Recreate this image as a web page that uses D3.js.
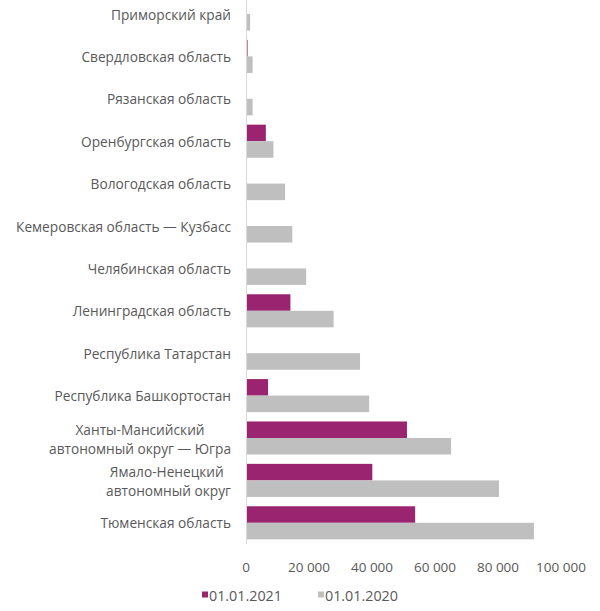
<!DOCTYPE html>
<html>
<head>
<meta charset="utf-8">
<script src="https://cdn.jsdelivr.net/npm/d3@7"></script>
<style>
  body { margin: 0; background: #fff; }
  svg text { font-family: "Open Sans", "Noto Sans", sans-serif; fill: #595959; }
</style>
</head>
<body>
<svg id="chart" width="600" height="611"></svg>
<script>
// regions, top to bottom as shown in the chart
const regions = [
    'Приморский край',
    'Свердловская область',
    'Рязанская область',
    'Оренбургская область',
    'Вологодская область',
    'Кемеровская область — Кузбасс',
    'Челябинская область',
    'Ленинградская область',
    'Республика Татарстан',
    'Республика Башкортостан',
    'Ханты-Мансийский\nавтономный округ — Югра',
    'Ямало-Ненецкий \nавтономный округ',
    'Тюменская область'
];
const values2021 = [0, 500, 0, 6300, 0, 0, 0, 14100, 0, 7000, 51100, 40100, 53700];
const values2020 = [1300, 2100, 2100, 8700, 12400, 14700, 19100, 27800, 36200, 39100, 65100, 80300, 91400];
const seriesNames = ['01.01.2021', '01.01.2020'];
const xTicks = [0, 20000, 40000, 60000, 80000, 100000];

const colors = { '01.01.2021': '#9b2470', '01.01.2020': '#bfbfbf' };

const svg = d3.select('#chart');

// layout
const plot = { left: 246, right: 561, top: -7.2, bottom: 544 };
const labelRight = 231;

const x = d3.scaleLinear()
    .domain([0, 100000])
    .range([plot.left, plot.right]);

const y = d3.scaleBand()
    .domain(regions)
    .range([plot.top, plot.bottom])
    .paddingInner(0.22)
    .paddingOuter(0.11);

const ySub = d3.scaleBand()
    .domain(seriesNames)
    .range([0, y.bandwidth()]);

const rows = regions.map((r, i) => ({
    region: r,
    values: [
        { name: seriesNames[0], value: values2021[i] },
        { name: seriesNames[1], value: values2020[i] }
    ]
}));

// bars
const groups = svg.append('g')
    .selectAll('g')
    .data(rows)
    .join('g')
    .attr('transform', d => `translate(0, ${y(d.region)})`);

groups.selectAll('rect')
    .data(d => d.values.filter(v => v.value > 0))
    .join('rect')
    .attr('x', x(0))
    .attr('y', d => ySub(d.name))
    .attr('width', d => x(d.value) - x(0))
    .attr('height', ySub.bandwidth())
    .attr('fill', d => colors[d.name]);

// vertical category axis line
svg.append('line')
    .attr('x1', x(0) + 0.5)
    .attr('x2', x(0) + 0.5)
    .attr('y1', 0)
    .attr('y2', plot.bottom)
    .attr('stroke', '#d9d9d9')
    .attr('stroke-width', 1);

// category labels (multi-line ones are centred as a block, right aligned)
const lineHeight = 19;
const labels = svg.append('g')
    .selectAll('text')
    .data(regions)
    .join('text')
    .attr('font-size', '13.7px')
    .attr('dominant-baseline', 'central');

labels.each(function(d) {
    const t = d3.select(this);
    const lines = d.split('\n');
    const cy = y(d) + y.bandwidth() / 2;
    if (lines.length === 1) {
        t.attr('x', labelRight).attr('y', cy)
            .attr('text-anchor', 'end')
            .text(d);
        return;
    }
    t.attr('text-anchor', 'middle');
    const spans = lines.map((ln, k) => t.append('tspan')
        .attr('y', cy + (k - (lines.length - 1) / 2) * lineHeight)
        .attr('xml:space', 'preserve')
        .text(ln));
    const maxW = d3.max(spans, s => s.node().getComputedTextLength());
    spans.forEach(s => s.attr('x', labelRight - maxW / 2));
});

// x axis tick labels
const fmt = v => d3.format(',')(v).replace(/,/g, ' ');
svg.append('g')
    .selectAll('text')
    .data(xTicks)
    .join('text')
    .attr('x', d => x(d))
    .attr('y', 567)
    .attr('text-anchor', 'middle')
    .attr('dominant-baseline', 'central')
    .attr('font-size', '13.5px')
    .text(fmt);

// legend
const legendItems = [
    { name: seriesNames[0], x: 202 },
    { name: seriesNames[1], x: 318 }
];
const legend = svg.append('g')
    .selectAll('g')
    .data(legendItems)
    .join('g')
    .attr('transform', d => `translate(${d.x}, 595)`);

legend.append('rect')
    .attr('x', 0)
    .attr('y', -3.5)
    .attr('width', 6)
    .attr('height', 6)
    .attr('fill', d => colors[d.name]);

legend.append('text')
    .attr('x', 7)
    .attr('y', 0)
    .attr('dominant-baseline', 'central')
    .attr('font-size', '14.3px')
    .text(d => d.name);
</script>
</body>
</html>
